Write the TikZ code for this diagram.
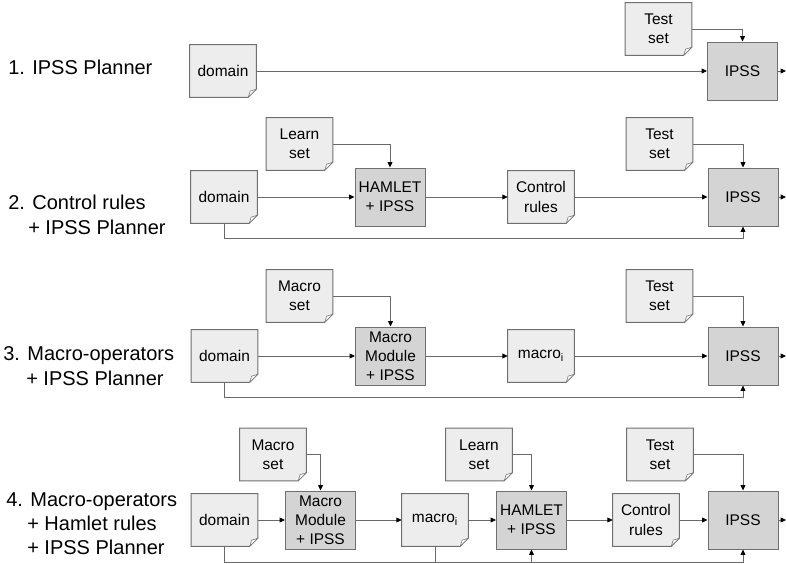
\documentclass[tikz,border=0pt]{standalone}
\usepackage{fontspec}
\setmainfont{Liberation Sans}
\usetikzlibrary{arrows.meta,backgrounds}
\definecolor{docfill}{HTML}{EDEDED}
\definecolor{procfill}{HTML}{D4D4D4}
\definecolor{linecol}{HTML}{6A6A6A}
\definecolor{bordercol}{HTML}{707070}
\tikzset{
  boxfont/.style={font=\fontsize{11.6}{14.3}\selectfont},
  doc/.style={boxfont, minimum width=49.5pt, minimum height=39pt, inner sep=0pt, align=center},
  proc/.style={boxfont, draw=bordercol, fill=procfill, line width=0.75pt, minimum width=52.5pt, minimum height=43.5pt, inner sep=0pt, align=center},
  conn/.style={draw=linecol, line width=0.6pt, -{Triangle[length=4pt,width=3.6pt,color=black]}},
  plain/.style={draw=linecol, line width=0.6pt},
  lab/.style={anchor=base west, font=\fontsize{15}{18}\selectfont, inner sep=0pt}
}
\newcommand\docshape[1]{%
  \filldraw[draw=bordercol, fill=docfill, line width=0.75pt] (#1.north west) -- (#1.north east) -- ([yshift=6pt]#1.south east) -- ([xshift=-6pt]#1.south east) -- (#1.south west) -- cycle;
  \filldraw[draw=bordercol, fill=white, line width=0.4pt] ([yshift=6pt]#1.south east) -- ([xshift=-6pt]#1.south east) -- ([xshift=-4.6pt,yshift=4.6pt]#1.south east) -- cycle;}
\begin{document}
\begin{tikzpicture}[x=0.75pt,y=-0.75pt]
\useasboundingbox (0,0) rectangle (786,564);

% ---- row labels
\node[lab] (r1a) at (8,74) {1. IPSS Planner};
\node[lab] (r2a) at (8,209) {2. Control rules};
\node[lab] (r2b) at (28,234) {+ IPSS Planner};
\node[lab] (r3a) at (3,360) {3. Macro-operators};
\node[lab] (r3b) at (26,385) {+ IPSS Planner};
\node[lab] (r4a) at (6,506) {4. Macro-operators};
\node[lab] (r4b) at (27,530) {+ Hamlet rules};
\node[lab] (r4c) at (27,554) {+ IPSS Planner};

% ---- row 1
\node[doc] (d1) at (223,71) {domain};
\node[doc] (t1) at (658.5,29) {Test\\set};
\node[proc] (i1) at (742.5,71) {IPSS};
\coordinate (o1) at (786,71);

% ---- row 2
\node[doc] (l2) at (299.5,144) {Learn\\set};
\node[doc] (d2) at (224,197) {domain};
\node[proc] (h2) at (390,197) {HAMLET\\+ IPSS};
\node[doc] (c2) at (541,197) {Control\\rules};
\node[doc] (t2) at (659.5,144) {Test\\set};
\node[proc] (i2) at (743,197) {IPSS};
\coordinate (o2) at (786,197);
\coordinate (b2) at (743,238);

% ---- row 3
\node[doc] (m3) at (299.5,296) {Macro\\set};
\node[doc] (d3) at (224.5,356) {domain};
\node[proc] (mm3) at (390.5,356) {Macro\\Module\\+ IPSS};
\node[doc] (x3) at (541,356) {macro\textsubscript{i}};
\node[doc] (t3) at (659.5,296) {Test\\set};
\node[proc] (i3) at (743,356) {IPSS};
\coordinate (o3) at (786,356);
\coordinate (b3) at (743,397);

% ---- row 4
\node[doc] (m4) at (273,454.5) {Macro\\set};
\node[doc] (d4) at (224.5,520) {domain};
\node[proc] (mm4) at (320.5,520) {Macro\\Module\\+ IPSS};
\node[doc] (x4) at (435,520) {macro\textsubscript{i}};
\node[doc] (l4) at (479,454.5) {Learn\\set};
\node[proc] (h4) at (531.5,520) {HAMLET\\+ IPSS};
\node[doc] (c4) at (646,520) {Control\\rules};
\node[doc] (t4) at (660,454.5) {Test\\set};
\node[proc] (i4) at (743,520) {IPSS};
\coordinate (o4) at (786,520);
\coordinate (b4a) at (531.5,562);
\coordinate (b4b) at (743,562);

% ---- document shapes
\begin{scope}[on background layer]
  \docshape{d1}\docshape{t1}
  \docshape{l2}\docshape{d2}\docshape{c2}\docshape{t2}
  \docshape{m3}\docshape{d3}\docshape{x3}\docshape{t3}
  \docshape{m4}\docshape{d4}\docshape{x4}\docshape{l4}\docshape{c4}\docshape{t4}
\end{scope}

% ---- connectors row 1
\draw[conn] (d1) -- (i1);
\draw[conn] (t1.east) -| (i1.north);
\draw[conn] (i1.east) -- (o1);

% ---- connectors row 2
\draw[conn] (l2.east) -| (h2.north);
\draw[conn] (d2) -- (h2);
\draw[conn] (h2) -- (c2);
\draw[conn] (c2) -- (i2);
\draw[conn] (t2.east) -| (i2.north);
\draw[conn] (i2.east) -- (o2);
\draw[conn] (d2.south) |- (b2) -- (i2.south);

% ---- connectors row 3
\draw[conn] (m3.east) -| (mm3.north);
\draw[conn] (d3) -- (mm3);
\draw[conn] (mm3) -- (x3);
\draw[conn] (x3) -- (i3);
\draw[conn] (t3.east) -| (i3.north);
\draw[conn] (i3.east) -- (o3);
\draw[conn] (d3.south) |- (b3) -- (i3.south);

% ---- connectors row 4
\draw[conn] (m4.east) -| (mm4.north);
\draw[conn] (d4) -- (mm4);
\draw[conn] (mm4) -- (x4);
\draw[conn] (x4) -- (h4);
\draw[conn] (l4.east) -| (h4.north);
\draw[conn] (h4) -- (c4);
\draw[conn] (c4) -- (i4);
\draw[conn] (t4.east) -| (i4.north);
\draw[conn] (i4.east) -- (o4);
\draw[conn] (d4.south) |- (b4b) -- (i4.south);
\draw[plain] (x4.south) -- (x4.south |- b4b);
\draw[conn] (b4a) -- (h4.south);
\end{tikzpicture}
\end{document}
